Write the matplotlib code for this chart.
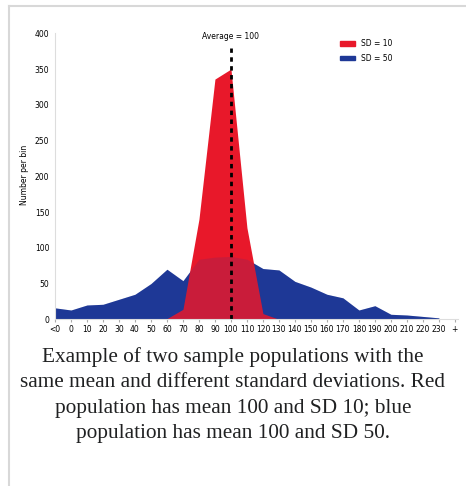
import matplotlib
matplotlib.use("Agg")
import matplotlib.pyplot as plt
from matplotlib.lines import Line2D
from matplotlib.patches import Patch
import numpy as np

# Bin labels along the x axis (last "+" bin is label only)
bin_labels = ['<0', '0', '10', '20', '30', '40', '50', '60', '70', '80', '90', '100',
              '110', '120', '130', '140', '150', '160', '170', '180', '190', '200',
              '210', '220', '230', '+']

# Counts per bin
sd50_counts = [16, 13, 20, 21, 28, 35, 50, 70, 54, 84, 87, 88,
               84, 71, 69, 53, 45, 35, 30, 13, 19, 7, 6, 4, 2]
sd10_counts = [0, 0, 0, 0, 0, 0, 0, 1, 14, 140, 336, 350,
               128, 8, 0, 0, 0, 0, 0, 0, 0, 0, 0, 0, 0]

mean_value = 100
red = '#e8182a'
blue = '#1e3896'

fig = plt.figure(figsize=(4.66, 4.86), dpi=100)
ax = fig.add_axes([0.118, 0.343, 0.865, 0.5885])

x = np.arange(len(sd50_counts))
ax.fill_between(x, sd50_counts, color=blue, lw=0)
ax.fill_between(x, sd10_counts, color=red, lw=0)
# blue shows faintly through the red where they overlap
ax.fill_between(x, sd50_counts, color=blue, alpha=0.15, lw=0)

xm = bin_labels.index(str(mean_value))
ax.plot([xm, xm], [0, 380], color='black', lw=2, linestyle=(0, (1.6, 1.6)))
ax.text(xm, 395, 'Average = 100', ha='center', va='center', fontsize=5.5)

ax.set_xlim(0, 25.2)
ax.set_ylim(0, 400)
ax.set_xticks(np.arange(len(bin_labels)))
ax.set_xticklabels(bin_labels, fontsize=5.5)
ax.set_yticks(np.arange(0, 401, 50))
ax.tick_params(axis='y', length=0, pad=4, labelsize=5.5)
ax.tick_params(axis='x', length=2, color='#aaaaaa', pad=2)

for s in ['top', 'right']:
    ax.spines[s].set_visible(False)
ax.spines['left'].set_color('#dddddd')
ax.spines['bottom'].set_color('#dddddd')

ax.set_ylabel('Number per bin', fontsize=5.5)
ax.yaxis.set_label_coords(-0.064, 0.505)

handles = [Patch(color=red), Patch(color=blue)]
ax.legend(handles, ['SD = 10', 'SD = 50'], loc='upper left',
          bbox_to_anchor=(0.69, 1.004), frameon=False, fontsize=5.5,
          handlelength=2.0, handleheight=0.6, labelspacing=0.75)

# thumbnail frame
fig.add_artist(Line2D([9 / 466, 1], [1 - 6 / 486, 1 - 6 / 486], color='#d8d8d8', lw=1.5))
fig.add_artist(Line2D([9 / 466, 9 / 466], [0, 1 - 6 / 486], color='#d8d8d8', lw=1.5))

caption = ('Example of two sample populations with the\n'
           'same mean and different standard deviations. Red\n'
           'population has mean 100 and SD 10; blue\n'
           'population has mean 100 and SD 50.')
fig.text(0.5, 1 - 395 / 486, caption, ha='center', va='center',
         family='Liberation Serif', fontsize=15.3, linespacing=1.47, color='#202122')

fig.savefig('out.png', dpi=100)
